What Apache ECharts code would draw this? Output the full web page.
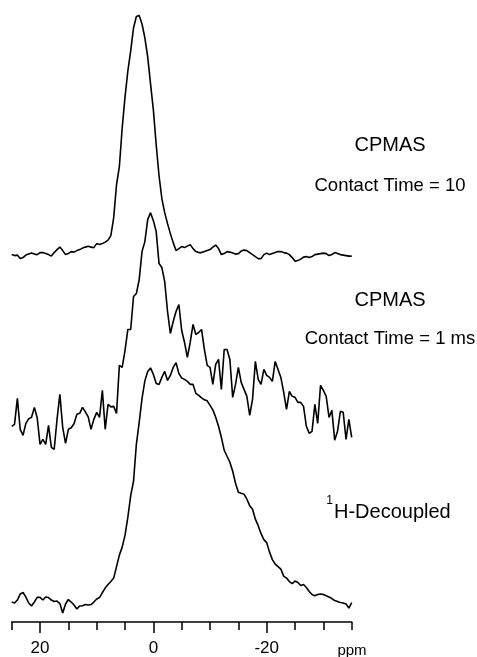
<!DOCTYPE html>
<html>
<head>
<meta charset="utf-8">
<script src="https://cdn.jsdelivr.net/npm/echarts@6/dist/echarts.min.js"></script>
<style>
	html, body { margin: 0; padding: 0; background: #fff; }
	#spectraChart { width: 477px; height: 657px; }
</style>
</head>
<body>
<div id="spectraChart"></div>
<script>
// sampling of the traces: 25 ppm down to -35 ppm, every 0.5 ppm
var ppmStart = 25;
var ppmStep = 0.5;
var tickLabels = [20, 0, -20];

// CPMAS, contact time = 10
var cpmas10 = [
	0, -1, -0.5, -4, -3, -0.5, 0.5, 1.5, 0.5, 0,
	2, 2, 1, 0, -1.5, 2, 5, 7.5, 4, 0,
	1, 3, 2.5, 4, 5, 6.5, 7.5, 8.3, 7.5, 7,
	11, 10, 11, 12.5, 14.5, 19, 37, 70, 88, 127,
	158, 184, 204, 227, 238.5, 239.5, 231, 217, 198, 171,
	145, 110, 79, 56, 42, 31, 21, 12, 4, 6,
	8, 7, 8.5, 10, 6, 3, 2, 2, 3, 4,
	5, 7.5, 9.5, 6, 0, 1, 3, 2.5, 1.5, 0.5,
	1, 3.5, 4.5, 4, 2, 0, -2, -4, -4, 0,
	1.5, 0, 1, 2, 3, 3, 2, 1.5, 0, -3,
	-6.7, -6, -4.5, -2.5, -2, -3, -2, 0, 0.5, 1,
	1.5, 1, -1, 0, 2, 1, 0, -0.5, -1, -1.5, -1.5
];

// CPMAS, contact time = 1 ms
var cpmas1 = [
	-2, 0, 26, -5, -11, 1, 5.5, 7, 17, 6.5,
	-20, -15, -20, -1, -23, -25, 5, 30, -3, -19,
	-5, -3.5, 0.5, 10, 11, 17, 12.5, 7.5, -5, 5,
	12, 7, 34, -5, 20, 17.5, 18, 11, 59, 57,
	74, 95, 95, 128, 131, 145, 173, 183, 205, 212,
	204, 193, 161, 157, 143, 113, 91, 103, 113, 120,
	94, 82, 67, 82, 100, 90, 92, 95, 75, 59,
	57, 40, 60, 65, 35, 75, 75, 65, 27, 40,
	57, 42, 35, 28, 9, 25, 63, 45, 40, 55,
	49, 47, 43, 63, 55, 47, 32, 15, 33, 28,
	27, 22, 22, 18, -2, -9, -7, 20, 1, 39,
	34, 28, 7, 14, -16, -7, 13, 12, -15, 5, -13
];

// 1H-decoupled
var decoupled = [
	0, -1, 2, 8, 9.5, 5, -1, -4, 0, 4.7,
	4.7, 2, 5, 4.5, 2, 0.5, 1, -1.5, -11, -2,
	2.5, 0, -3, -7, -4, -3.7, -2.5, -3, -2.5, 0,
	3, 4.5, 9.5, 14, 17.5, 20.5, 24, 35.5, 47, 55,
	67, 85, 106.5, 121, 158, 180, 204, 221.5, 231, 234.5,
	228, 219, 218, 225, 231, 222, 227, 235, 239.7, 229,
	224.3, 223, 221, 218, 218, 209, 207, 204.5, 202.5, 201.5,
	197, 192.5, 185, 176, 165, 152, 146, 140, 131, 119,
	110, 109, 108, 103, 96.5, 93, 83, 76.5, 68.5, 62.5,
	59.5, 50, 42.5, 38, 35.5, 33, 26, 24, 20.5, 18.5,
	21, 19.5, 16.5, 17.5, 14.5, 10.5, 7.5, 6.3, 7.5, 8,
	7.5, 6.3, 5, 3.5, 1.5, 0.5, -0.5, -1, -2, -6, -0.5
];

var spectra = {
	init: function() {
		var chart = echarts.init(document.getElementById('spectraChart'));
		var textFont = '"Liberation Sans", Arial, Helvetica, sans-serif';

		chart.setOption({
			backgroundColor: '#fff',
			animation: false,
			grid: { left: 11.7, right: 125.3, top: 10, bottom: 34 },
			xAxis: [ {
				type: 'value',
				min: -35,
				max: 25,
				interval: 5,
				inverse: true,
				axisLine: { lineStyle: { color: '#000', width: 1.5 } },
				axisTick: { inside: false, length: 8, lineStyle: { color: '#000', width: 1.5 } },
				axisLabel: { show: false },
				splitLine: { show: false }
			}, {
				type: 'value',
				min: -35,
				max: 25,
				inverse: true,
				position: 'bottom',
				axisLine: { show: false },
				axisTick: { length: 11, customValues: tickLabels, lineStyle: { color: '#000', width: 1.5 } },
				axisLabel: {
					customValues: tickLabels,
					margin: 18,
					color: '#000',
					fontSize: 17,
					fontFamily: textFont
				},
				splitLine: { show: false }
			} ],
			yAxis: {
				type: 'value',
				min: 0,
				max: 613,
				show: false
			},
			series: [
				spectra.trace(cpmas10, 368),
				spectra.trace(cpmas1, 198),
				spectra.trace(decoupled, 20)
			],
			graphic: [
				spectra.label('CPMAS', 390, 145, 20, 'center', textFont),
				spectra.label('Contact Time = 10', 390, 186, 18.5, 'center', textFont),
				spectra.label('CPMAS', 390, 300, 20, 'center', textFont),
				spectra.label('Contact Time = 1 ms', 390, 338.5, 18.5, 'center', textFont),
				spectra.label('H-Decoupled', 334, 512, 20, 'left', textFont),
				spectra.label('1', 333, 501, 12, 'right', textFont),
				spectra.label('ppm', 352, 651, 15, 'center', textFont)
			]
		});
	},
	trace: function(values, offset) {
		var points = [];
		$each(values, function(i, v) {
			points.push([ppmStart - i * ppmStep, v + offset]);
		});
		return {
			type: 'line',
			data: points,
			showSymbol: false,
			silent: true,
			lineStyle: { color: '#000', width: 1.6 }
		};
	},
	label: function(text, x, y, size, align, font) {
		return {
			type: 'text',
			x: x,
			y: y,
			style: {
				text: text,
				fill: '#000',
				fontSize: size,
				fontFamily: font,
				textAlign: align,
				textVerticalAlign: 'middle'
			}
		};
	}
};

function $each(arr, fn) {
	for (var i = 0; i < arr.length; i++) {
		fn(i, arr[i]);
	}
}

spectra.init();
</script>
</body>
</html>
